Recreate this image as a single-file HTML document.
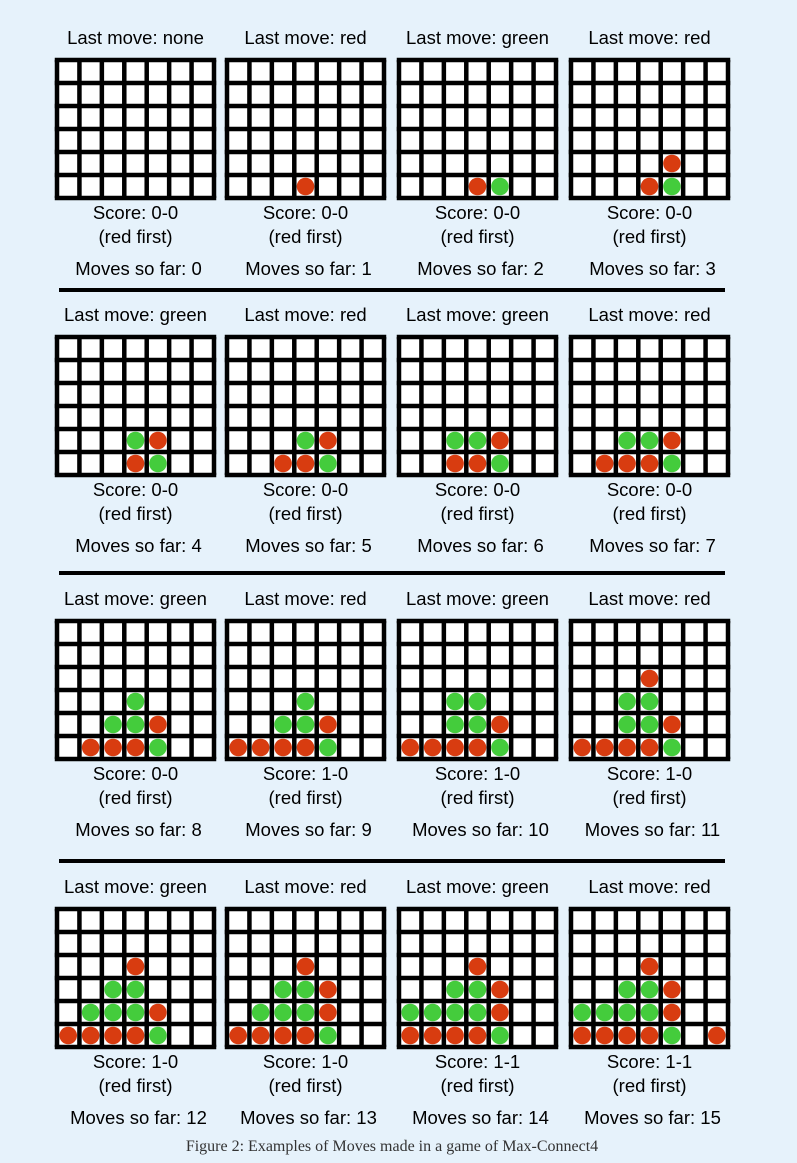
<!DOCTYPE html>
<html><head><meta charset="utf-8"><style>
html,body{margin:0;padding:0;background:#e6f2fb;}
svg{display:block;}
text{font-family:"Liberation Sans",Arial,sans-serif;font-size:18.5px;fill:#000;}
.cap{font-family:"Liberation Serif",serif;font-size:16px;fill:#333;}
</style></head><body>
<svg id="fig" width="797" height="1163" viewBox="0 0 797 1163" xmlns="http://www.w3.org/2000/svg">
<rect width="797" height="1163" fill="#e6f2fb"/>
</svg>
<script>
// move sequence: column played each turn (red first, alternating)
const moveCols = [3,4,4,3,2,2,1,3,0,2,3,1,4,0,6];
const scores = ["0-0","0-0","0-0","0-0","0-0","0-0","0-0","0-0","0-0","1-0","1-0","1-0","1-0","1-0","1-1","1-1"];
const lastMoves = ["none","red","green","red","green","red","green","red","green","red","green","red","green","red","green","red"];

const NS="http://www.w3.org/2000/svg";
const svg=document.getElementById('fig');
const boardX=[57,227,399,571], boardY=[60,337,621,909];
const W=157,H=138,COLS=7,ROWS=6,pw=W/COLS,ph=H/ROWS;
function mk(tag,attrs,parent){const e=document.createElementNS(NS,tag);for(const k in attrs)e.setAttribute(k,attrs[k]);(parent||svg).appendChild(e);return e;}
function txt(x,y,s,cls,g){const t=mk('text',{x:x,y:y,'text-anchor':'middle'},g);if(cls)t.setAttribute('class',cls);t.textContent=s;return t;}

for(let i=0;i<16;i++){
  const bx=boardX[i%4], by=boardY[Math.floor(i/4)], cx=bx+W/2;
  const g=mk('g',{});
  
  
  const t1=txt(cx,by-16,'Last move: '+lastMoves[i],null,g);
  
  
  const b=mk('rect',{x:bx,y:by,width:W,height:H,fill:'#fff'},g);
  
  
  const heights=[0,0,0,0,0,0,0];
  for(let m=0;m<i;m++){
    const c=moveCols[m], r=heights[c]++;
    const p=mk('circle',{cx:bx+(c+0.5)*pw,cy:by+H-(r+0.5)*ph,r:8.8,fill:m%2===0?'#d83c10':'#44cc3c'},g);
    
    
  }
  for(let c=0;c<=COLS;c++){const l=mk('line',{x1:bx+c*pw,y1:by,x2:bx+c*pw,y2:by+H,stroke:'#000','stroke-width':4.5},g);
    
    }
  for(let r=0;r<=ROWS;r++){const l=mk('line',{x1:bx-2.25,y1:by+r*ph,x2:bx+W+2.25,y2:by+r*ph,stroke:'#000','stroke-width':4.5},g);
    
    }
  const t2=txt(cx,by+159,'Score: '+scores[i],null,g);
  
  
  const t3=txt(cx,by+183,'(red first)',null,g);
  
  
  const t4=txt(cx+3,by+215,'Moves so far: '+i,null,g);
  
  
}
[290,573,861].forEach(y=>{const l=mk('line',{x1:59,y1:y,x2:725,y2:y,stroke:'#000','stroke-width':4});
  
  });
const cap=txt(392,1151,'Figure 2: Examples of Moves made in a game of Max-Connect4','cap');


</script>
</body></html>
